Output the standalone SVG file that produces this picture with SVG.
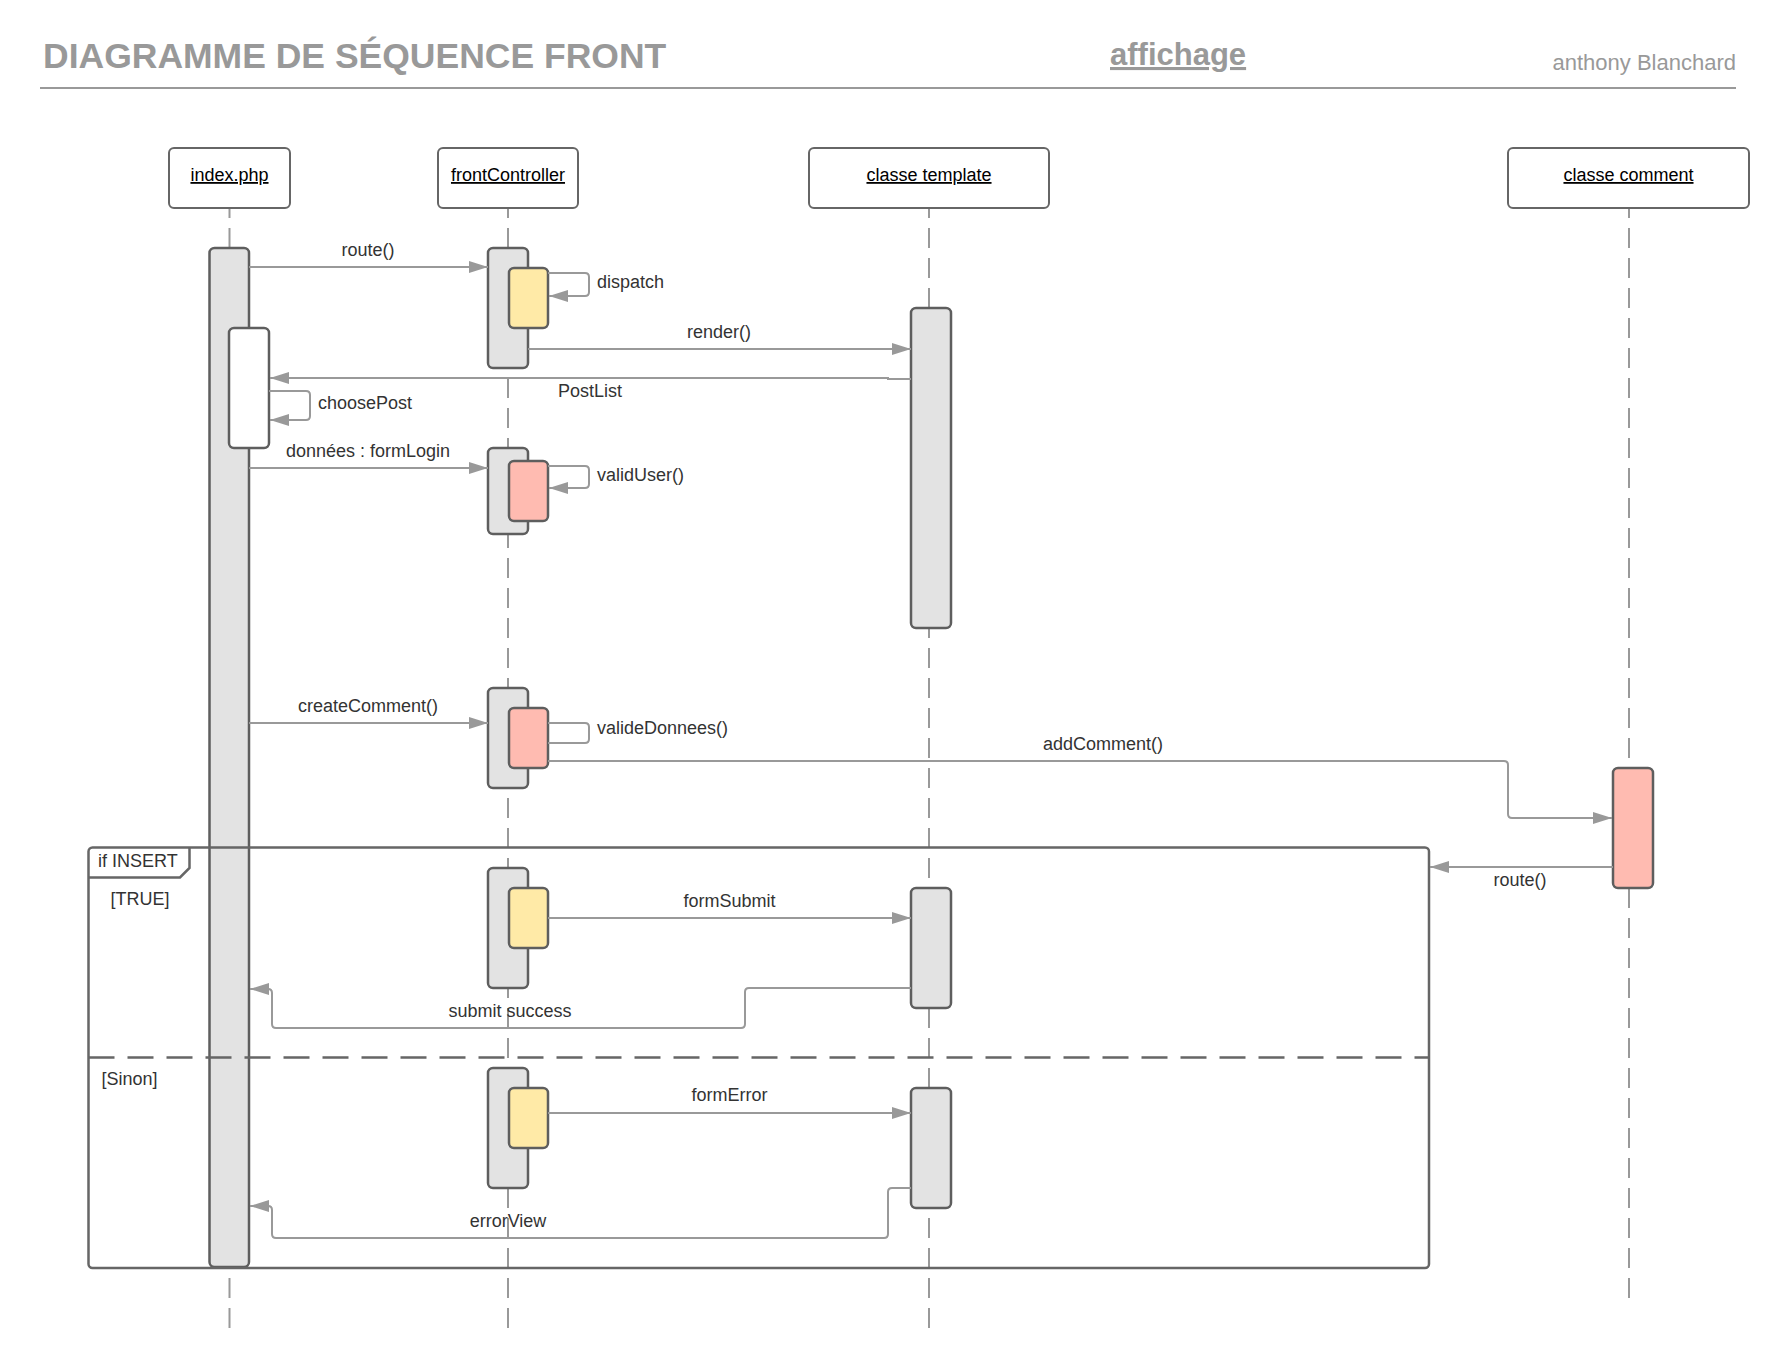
<svg xmlns="http://www.w3.org/2000/svg" width="1789" height="1368" viewBox="0 0 1789 1368">
<style>
  .hdr{font-family:"Liberation Sans",Arial,sans-serif;fill:#999999}
  .box{fill:#ffffff;stroke:#666666;stroke-width:2}
  .plabel{font-family:"Liberation Sans",Arial,sans-serif;font-size:18px;fill:#000000;text-anchor:middle;text-decoration:underline}
  .life{stroke:#999999;stroke-width:2;stroke-dasharray:20 10;stroke-dashoffset:10;fill:none}
  .act{fill:#e3e3e3;stroke:#5e5e5e;stroke-width:2.5}
  .white{fill:#ffffff;stroke:#5e5e5e;stroke-width:2.5}
  .yel{fill:#ffeaa7;stroke:#5e5e5e;stroke-width:2.5}
  .pink{fill:#ffbbb1;stroke:#5e5e5e;stroke-width:2.5}
  .msg{fill:none;stroke:#999999;stroke-width:2}
  .arr{marker-end:url(#ah)}
  .lbl{font-family:"Liberation Sans",Arial,sans-serif;font-size:18px;fill:#333333}
  .mid{text-anchor:middle}
  .frame{fill:none;stroke:#666666;stroke-width:2.5}
</style>
<defs>
  <marker id="ah" markerUnits="userSpaceOnUse" markerWidth="20" markerHeight="14" refX="19" refY="6" orient="auto">
    <path d="M0,0 L19,6 L0,12 z" fill="#999999"/>
  </marker>
</defs>
<rect width="1789" height="1368" fill="#ffffff"/>
<g id="header">
  <text class="hdr" x="43" y="68" font-size="35.5" font-weight="bold">DIAGRAMME DE SÉQUENCE FRONT</text>
  <text class="hdr" x="1110" y="65" font-size="31" font-weight="bold" text-decoration="underline">affichage</text>
  <text class="hdr" x="1736" y="70" font-size="22" text-anchor="end">anthony Blanchard</text>
  <line x1="40" y1="88" x2="1736" y2="88" stroke="#999999" stroke-width="2"/>
</g>
<g id="lifelines">
  <line class="life" x1="229.5" y1="208" x2="229.5" y2="1328"/>
  <line class="life" x1="508" y1="208" x2="508" y2="1328"/>
  <line class="life" x1="929" y1="208" x2="929" y2="1328"/>
  <line class="life" x1="1629" y1="208" x2="1629" y2="1308"/>
</g>
<g id="node-index">
  <rect class="box" x="169" y="148" width="121" height="60" rx="5"/>
  <text class="plabel" x="229.5" y="181">index.php</text>
  <rect class="act" x="209.5" y="248" width="39.5" height="1019" rx="5"/>
  <rect class="white" x="229" y="328" width="40" height="120" rx="5"/>
</g>
<g id="node-frontController">
  <rect class="box" x="438" y="148" width="140" height="60" rx="5"/>
  <text class="plabel" x="508" y="181">frontController</text>
  <rect class="act" x="488" y="248" width="40" height="120" rx="5"/>
  <rect class="yel" x="509" y="268" width="39" height="60" rx="5"/>
  <rect class="act" x="488" y="448" width="40" height="86" rx="5"/>
  <rect class="pink" x="509" y="461" width="39" height="60" rx="5"/>
  <rect class="act" x="488" y="688" width="40" height="100" rx="5"/>
  <rect class="pink" x="509" y="708" width="39" height="60" rx="5"/>
  <rect class="act" x="488" y="868" width="40" height="120" rx="5"/>
  <rect class="yel" x="509" y="888" width="39" height="60" rx="5"/>
  <rect class="act" x="488" y="1068" width="40" height="120" rx="5"/>
  <rect class="yel" x="509" y="1088" width="39" height="60" rx="5"/>
</g>
<g id="node-template">
  <rect class="box" x="809" y="148" width="240" height="60" rx="5"/>
  <text class="plabel" x="929" y="181">classe template</text>
  <rect class="act" x="911" y="308" width="40" height="320" rx="5"/>
  <rect class="act" x="911" y="888" width="40" height="120" rx="5"/>
  <rect class="act" x="911" y="1088" width="40" height="120" rx="5"/>
</g>
<g id="node-comment">
  <rect class="box" x="1508" y="148" width="241" height="60" rx="5"/>
  <text class="plabel" x="1628.5" y="181">classe comment</text>
  <rect class="pink" x="1613" y="768" width="40" height="120" rx="5"/>
</g>
<g id="frame-if-insert">
  <rect class="frame" x="88.5" y="847.5" width="1340.5" height="420.5" rx="4"/>
  <path class="frame" d="M88.5,877.5 H180 L189.5,868 V847.5"/>
  <line x1="88.5" y1="1057.5" x2="1429" y2="1057.5" stroke="#666666" stroke-width="2.5" stroke-dasharray="26 13"/>
  <text class="lbl" x="98" y="867">if INSERT</text>
  <text class="lbl mid" x="140" y="905">[TRUE]</text>
  <text class="lbl" x="101.5" y="1085" fill="#111111">[Sinon]</text>
</g>
<g id="connectors">
  <path class="msg arr" d="M249,267 H488"/>
  <text class="lbl mid" x="368" y="256">route()</text>
  <path class="msg arr" d="M548,273 H585 Q589,273 589,277 V292 Q589,296 585,296 H549"/>
  <text class="lbl" x="597" y="288">dispatch</text>
  <path class="msg arr" d="M528,349 H911"/>
  <text class="lbl mid" x="719" y="338">render()</text>
  <path class="msg arr" d="M911,379 H888 V378 H270"/>
  <text class="lbl mid" x="590" y="397">PostList</text>
  <path class="msg arr" d="M269,391 H306 Q310,391 310,395 V416 Q310,420 306,420 H270"/>
  <text class="lbl" x="318" y="409">choosePost</text>
  <path class="msg arr" d="M249,468 H488"/>
  <text class="lbl mid" x="368" y="457">données : formLogin</text>
  <path class="msg arr" d="M548,466 H585 Q589,466 589,470 V484 Q589,488 585,488 H549"/>
  <text class="lbl" x="597" y="481">validUser()</text>
  <path class="msg arr" d="M249,723 H488"/>
  <text class="lbl mid" x="368" y="712">createComment()</text>
  <path class="msg" d="M548,723 H585 Q589,723 589,727 V739 Q589,743 585,743 H548"/>
  <text class="lbl" x="597" y="734">valideDonnees()</text>
  <path class="msg arr" d="M548,761 H1504 Q1508,761 1508,765 V814 Q1508,818 1512,818 H1612"/>
  <text class="lbl mid" x="1103" y="750">addComment()</text>
  <path class="msg arr" d="M1613,867 H1430"/>
  <text class="lbl mid" x="1520" y="886">route()</text>
  <path class="msg arr" d="M548,918 H911"/>
  <text class="lbl mid" x="729.5" y="907">formSubmit</text>
  <path class="msg arr" d="M911,988 H749 Q745,988 745,992 V1024 Q745,1028 741,1028 H276 Q272,1028 272,1024 V993 Q272,989 268,989 H250"/>
  <text class="lbl mid" x="510" y="1017">submit success</text>
  <path class="msg arr" d="M548,1113 H911"/>
  <text class="lbl mid" x="729.5" y="1101">formError</text>
  <path class="msg arr" d="M911,1188 H892 Q888,1188 888,1192 V1234 Q888,1238 884,1238 H276 Q272,1238 272,1234 V1210 Q272,1206 268,1206 H250"/>
  <text class="lbl mid" x="508" y="1227">errorView</text>
</g>
</svg>
